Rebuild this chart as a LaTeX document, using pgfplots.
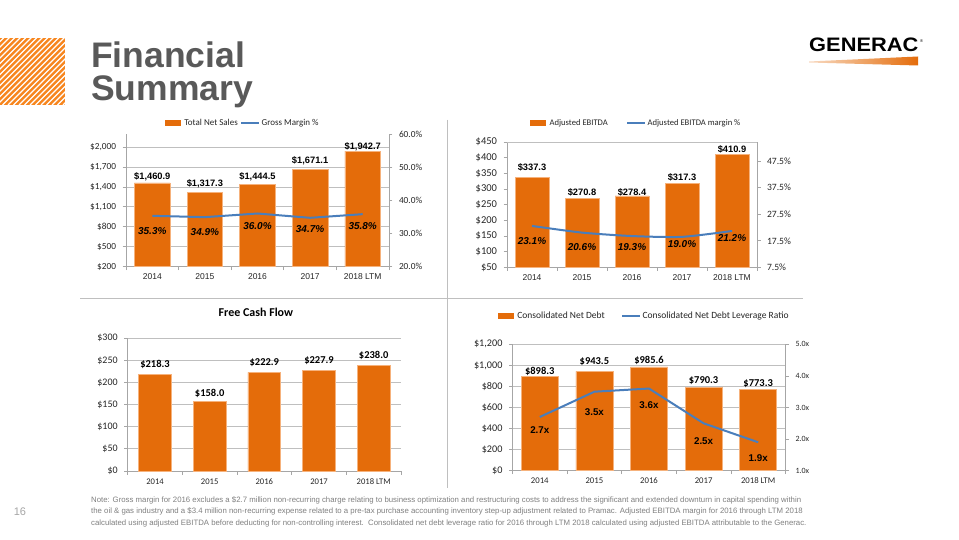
\documentclass[border=0pt]{standalone}
\usepackage{pgfplots}
\pgfplotsset{compat=1.18}
\usepackage{fontspec}
\setmainfont{Carlito}
\newfontfamily\arial{Liberation Sans}
\definecolor{barc}{HTML}{E46C0A}
\definecolor{baredge}{HTML}{F6B27C}
\definecolor{lnc}{HTML}{4A7EBB}
\definecolor{gridc}{HTML}{BFBFBF}
\definecolor{axc}{HTML}{A6A6A6}
\definecolor{ttl}{HTML}{595959}
\definecolor{notec}{HTML}{808080}
\definecolor{hatchc}{HTML}{F7861E}
\definecolor{tickc}{HTML}{262626}
\pgfplotsset{
  base/.style={scale only axis, anchor=south west, xmin=-0.5, xmax=4.5,
    axis line style={draw=axc, line width=0.8pt}, tick style={draw=axc, line width=0.8pt},
    major tick length=3.5pt, tick align=outside, clip mode=individual,
    yticklabel style={text=tickc}, xticklabel style={text=tickc}},
  leftax/.style={base, axis x line*=bottom, axis y line*=left,
    xtick={0,...,4}, xticklabels={2014,2015,2016,2017,2018 LTM},
    major x tick style={draw=none}, minor xtick={-0.5,0.5,...,4.5},
    minor tick length=3.5pt, minor x tick style={draw=axc, line width=0.8pt},
    yticklabel style={xshift=-3pt}, grid style={draw=gridc, line width=0.8pt}},
  rightax/.style={base, axis x line=none, axis y line*=right, yticklabel style={xshift=3pt}},
  barplot/.style={ybar, fill=barc, draw=baredge, line width=0.6pt},
  lineplot/.style={lnc, line width=2pt, mark=none},
  legbar/.style={legend image code/.code={\fill[barc, draw=none] (0pt,-2.6pt) rectangle (16pt,2.6pt); \path[draw=none, fill=none] (0pt,0pt) -- (18pt,0pt);}},
  legline/.style={legend image code/.code={\draw[lnc, line width=1.8pt] (0pt,0pt) -- (18pt,0pt);}},
  leg/.style={legend columns=2, legend cell align=left,
    legend style={draw=none, fill=none, anchor=center, inner sep=0pt,
      nodes={inner sep=1.5pt, text=tickc},
      /tikz/every even column/.append style={column sep=#1}}},
}
\tikzset{
  vlabA/.style={font=\arial\bfseries\fontsize{9.3}{10}\selectfont, inner sep=0pt, text=black},
  vlabC/.style={font=\bfseries\fontsize{10.5}{11}\selectfont, inner sep=0pt, text=black},
  plab/.style={font=\arial\bfseries\itshape\fontsize{10}{11}\selectfont, inner sep=0pt, text=black},
  xlab/.style={font=\arial\bfseries\fontsize{9.8}{11}\selectfont, inner sep=0pt, text=black},
}
\begin{document}
\begin{tikzpicture}[x=1pt,y=1pt]
\path[use as bounding box, fill=white] (0,0) rectangle (959,-540);
% hatched square
\begin{scope}
\clip (0,-38) rectangle (65,-105);
\fill[hatchc] (0,-38) rectangle (65,-105);
\foreach \k in {-80,-74.5,...,70} \draw[white, line width=1.2pt] (\k,-105) -- ++(75,75);
\end{scope}
% title
\node[anchor=base west, inner sep=0pt, text=ttl, font=\arial\bfseries\fontsize{35.5}{35}\selectfont] at (91,-68) {Financial};
\node[anchor=base west, inner sep=0pt, text=ttl, font=\arial\bfseries\fontsize{35.5}{35}\selectfont] at (91,-101) {Summary};
% logo
\node[anchor=base west, inner sep=0pt, font=\arial\bfseries\fontsize{19.5}{20}\selectfont] at (809,-52) {\scalebox{1.12}[1]{GENERAC}};
\node[font=\arial\fontsize{4}{4}\selectfont, inner sep=0pt] at (921.5,-41.5) {®};
\shade[left color=barc!25, right color=barc] (809,-61.5) -- (918,-56.5) -- (918,-65.5) -- (809,-62.5) -- cycle;
% separators
\draw[gridc, line width=0.9pt] (447,-120) -- (447,-488);
\draw[gridc, line width=0.9pt] (80,-298) -- (803,-298);
% page number and note
\node[text=axc, font=\arial\fontsize{11}{11}\selectfont] at (20,-512) {16};
\begin{scope}[every node/.style={anchor=west, inner sep=0pt, text=notec, font=\arial\fontsize{7.8}{8}\selectfont}]
\node at (91,-500) {Note: Gross margin for 2016 excludes a \$2.7 million non-recurring charge relating to business optimization and restructuring costs to address the significant and extended downturn in capital spending within};
\node at (91,-511.5) {the oil \& gas industry and a \$3.4 million non-recurring expense related to a pre-tax purchase accounting inventory step-up adjustment related to Pramac. Adjusted EBITDA margin for 2016 through LTM 2018};
\node at (91,-523) {calculated using adjusted EBITDA before deducting for non-controlling interest.\ \ Consolidated net debt leverage ratio for 2016 through LTM 2018 calculated using adjusted EBITDA attributable to the Generac.};
\end{scope}

%%%%% Chart 1: Total Net Sales
\begin{axis}[leftax, at={(126pt,-266.5pt)}, width=263pt, height=132.5pt,
  ymin=200, ymax=2200, ytick={200,500,...,2000},
  yticklabels={{\$200},{\$500},{\$800},{\$1,100},{\$1,400},{\$1,700},{\$2,000}},
  ymajorgrids,
  yticklabel style={font=\fontsize{9.3}{10}\selectfont},
  xticklabel style={font=\arial\fontsize{8.5}{9}\selectfont}]
\addplot[barplot, bar width=0.68] coordinates {(0,1460.9) (1,1317.3) (2,1444.5) (3,1671.1) (4,1942.7)};
\node[vlabA] at (axis cs:0,1555) {\$1,460.9};
\node[vlabA] at (axis cs:1,1450) {\$1,317.3};
\node[vlabA] at (axis cs:2,1551) {\$1,444.5};
\node[vlabA] at (axis cs:3,1792) {\$1,671.1};
\node[vlabA] at (axis cs:4,2008) {\$1,942.7};
\end{axis}
\begin{axis}[rightax, at={(126pt,-266.5pt)}, width=263pt, height=132.5pt,
  ymin=20, ymax=60, ytick={20,30,...,60},
  yticklabels={20.0\%,30.0\%,40.0\%,50.0\%,60.0\%},
  yticklabel style={font=\fontsize{9.3}{10}\selectfont},
  leg=1pt, legend style={at={(0.443,1.083)}, font=\fontsize{9}{9}\selectfont}]
\addlegendimage{legbar}\addlegendentry{Total Net Sales}
\addplot[lineplot, legline] coordinates {(0,35.3) (1,34.9) (2,36.0) (3,34.7) (4,35.8)};
\addlegendentry{Gross Margin \%}
\node[plab] at (axis cs:0,30.81) {35.3\%};
\node[plab] at (axis cs:1,30.32) {34.9\%};
\node[plab] at (axis cs:2,32.23) {36.0\%};
\node[plab] at (axis cs:3,31.23) {34.7\%};
\node[plab] at (axis cs:4,32.23) {35.8\%};
\end{axis}

%%%%% Chart 2: Adjusted EBITDA
\begin{axis}[leftax, at={(507pt,-267.5pt)}, width=250pt, height=125.5pt,
  ymin=50, ymax=450, ytick={50,100,...,400},
  yticklabels={{\$50},{\$100},{\$150},{\$200},{\$250},{\$300},{\$350},{\$400}},
  extra y ticks={450}, extra y tick labels={{\$450}},
  extra y tick style={grid=major},
  yticklabel style={font=\fontsize{10.5}{11}\selectfont},
  xticklabel style={font=\arial\fontsize{8.5}{9}\selectfont}]
\addplot[barplot, bar width=0.68] coordinates {(0,337.3) (1,270.8) (2,278.4) (3,317.3) (4,410.9)};
\node[vlabA] at (axis cs:0,368.1) {\$337.3};
\node[vlabA] at (axis cs:1,288.4) {\$270.8};
\node[vlabA] at (axis cs:2,288.4) {\$278.4};
\node[vlabA] at (axis cs:3,336.3) {\$317.3};
\node[vlabA] at (axis cs:4,427.7) {\$410.9};
\end{axis}
\begin{axis}[rightax, at={(507pt,-267.5pt)}, width=250pt, height=125.5pt,
  ymin=7.5, ymax=54.6, ytick={7.5,17.5,...,47.5},
  yticklabels={7.5\%,17.5\%,27.5\%,37.5\%,47.5\%},
  yticklabel style={font=\fontsize{9.6}{10}\selectfont},
  leg=17pt, legend style={at={(0.516,1.151)}, font=\fontsize{8.6}{9}\selectfont}]
\addlegendimage{legbar}\addlegendentry{Adjusted EBITDA}
\addplot[lineplot, legline, smooth, tension=0.4] coordinates {(0,23.1) (1,20.6) (2,19.3) (3,19.0) (4,21.2)};
\addlegendentry{Adjusted EBITDA margin \%}
\node[plab] at (axis cs:0,17.45) {23.1\%};
\node[plab] at (axis cs:1,15.09) {20.6\%};
\node[plab] at (axis cs:2,15.09) {19.3\%};
\node[plab] at (axis cs:3,16.33) {19.0\%};
\node[plab] at (axis cs:4,18.58) {21.2\%};
\end{axis}

%%%%% Chart 3: Free Cash Flow
\begin{axis}[leftax, at={(127.7pt,-471pt)}, width=273.3pt, height=132.7pt,
  ymin=0, ymax=300, ytick={0,50,...,300},
  yticklabels={{\$0},{\$50},{\$100},{\$150},{\$200},{\$250},{\$300}},
  ymajorgrids,
  yticklabel style={font=\fontsize{10}{11}\selectfont},
  xticklabel style={font=\fontsize{8.6}{9}\selectfont, yshift=-1pt},
  title={Free Cash Flow},
  title style={at={(0.469,1.152)}, anchor=center, inner sep=0pt, font=\bfseries\fontsize{12}{13}\selectfont}]
\addplot[barplot, bar width=0.6] coordinates {(0,218.3) (1,158.0) (2,222.9) (3,227.9) (4,238.0)};
\node[vlabC] at (axis cs:0,241.9) {\$218.3};
\node[vlabC] at (axis cs:1,174.8) {\$158.0};
\node[vlabC] at (axis cs:2,245.7) {\$222.9};
\node[vlabC] at (axis cs:3,249.4) {\$227.9};
\node[vlabC] at (axis cs:4,260.7) {\$238.0};
\end{axis}

%%%%% Chart 4: Consolidated Net Debt
\begin{axis}[leftax, at={(512.5pt,-470.7pt)}, width=273pt, height=126.4pt,
  ymin=0, ymax=1200, ytick={0,200,...,1200},
  yticklabels={{\$0},{\$200},{\$400},{\$600},{\$800},{\$1,000},{\$1,200}},
  ymajorgrids,
  yticklabel style={font=\fontsize{10.2}{11}\selectfont},
  xticklabel style={font=\fontsize{8.7}{9}\selectfont}]
\addplot[barplot, bar width=0.68] coordinates {(0,898.3) (1,943.5) (2,985.6) (3,790.3) (4,773.3)};
\node[vlabC] at (axis cs:0,940) {\$898.3};
\node[vlabC] at (axis cs:1,1034.9) {\$943.5};
\node[vlabC] at (axis cs:2,1051) {\$985.6};
\node[vlabC] at (axis cs:3,851.6) {\$790.3};
\node[vlabC] at (axis cs:4,829.8) {\$773.3};
\end{axis}
\begin{axis}[rightax, at={(512.5pt,-470.7pt)}, width=273pt, height=126.4pt,
  ymin=1, ymax=5, ytick={1,2,...,5},
  yticklabels={1.0x,2.0x,3.0x,4.0x,5.0x},
  yticklabel style={font=\fontsize{8}{9}\selectfont},
  leg=15pt, legend style={at={(0.4817,1.224)}, font=\fontsize{9.5}{10}\selectfont}]
\addlegendimage{legbar}\addlegendentry{Consolidated Net Debt}
\addplot[lineplot, legline] coordinates {(0,2.7) (1,3.5) (2,3.6) (3,2.5) (4,1.9)};
\addlegendentry{Consolidated Net Debt Leverage Ratio}
\node[xlab] at (axis cs:0,2.288) {2.7x};
\node[xlab] at (axis cs:1,2.867) {3.5x};
\node[xlab] at (axis cs:2,3.079) {3.6x};
\node[xlab] at (axis cs:3,1.940) {2.5x};
\node[xlab] at (axis cs:4,1.411) {1.9x};
\end{axis}
\end{tikzpicture}
\end{document}
